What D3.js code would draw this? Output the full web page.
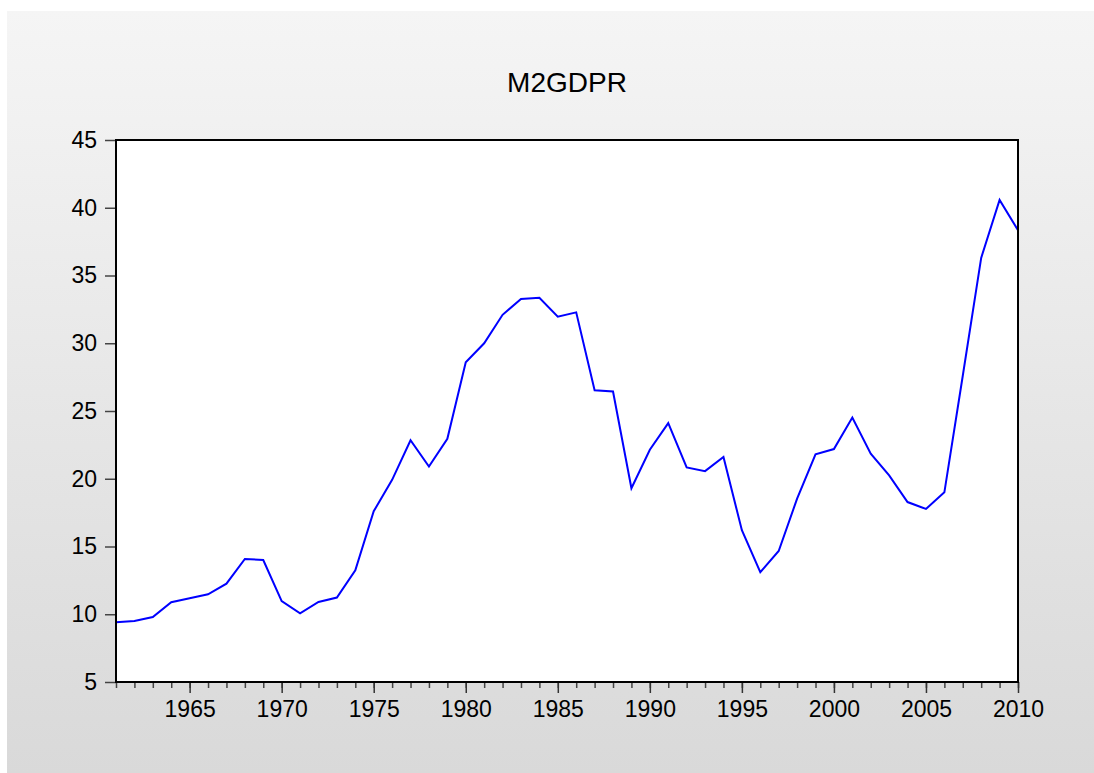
<!DOCTYPE html>
<html>
<head>
<meta charset="utf-8">
<script src="https://cdn.jsdelivr.net/npm/d3@7"></script>
<style>
  body { margin: 0; background: #fff; }
  text { font-family: "Liberation Sans", Arial, sans-serif; fill: #000; }
</style>
</head>
<body>
<script>
// data
var years = [1961, 1962, 1963, 1964, 1965, 1966, 1967, 1968, 1969, 1970,
             1971, 1972, 1973, 1974, 1975, 1976, 1977, 1978, 1979, 1980,
             1981, 1982, 1983, 1984, 1985, 1986, 1987, 1988, 1989, 1990,
             1991, 1992, 1993, 1994, 1995, 1996, 1997, 1998, 1999, 2000,
             2001, 2002, 2003, 2004, 2005, 2006, 2007, 2008, 2009, 2010];
var m2gdpr = [9.41, 9.51, 9.80, 10.89, 11.18, 11.47, 12.26, 14.08, 14.0, 10.97,
              10.07, 10.91, 11.23, 13.24, 17.6, 19.92, 22.84, 20.9, 22.95, 28.6,
              30.0, 32.1, 33.27, 33.36, 31.96, 32.28, 26.53, 26.44, 19.3, 22.14,
              24.1, 20.84, 20.56, 21.6, 16.2, 13.1, 14.67, 18.53, 21.8, 22.19,
              24.52, 21.85, 20.25, 18.28, 17.77, 19.0, 27.6, 36.3, 40.58, 38.35];
var yTicks = [5, 10, 15, 20, 25, 30, 35, 40, 45];
var xLabels = [1965, 1970, 1975, 1980, 1985, 1990, 1995, 2000, 2005, 2010];
var title = "M2GDPR";

// set up canvas
var W = 1094, H = 773;
var margin = {top: 140, right: 76, bottom: 91, left: 116},
    width = W - margin.left - margin.right,
    height = H - margin.top - margin.bottom;

var svg = d3.select("body").append("svg")
    .attr("width", W)
    .attr("height", H);

// gray backdrop
var grad = svg.append("defs").append("linearGradient")
    .attr("id", "bg")
    .attr("x1", 0).attr("y1", 0).attr("x2", 0).attr("y2", 1);
grad.append("stop").attr("offset", "0%").attr("stop-color", "#f5f5f5");
grad.append("stop").attr("offset", "100%").attr("stop-color", "#d9d9d9");

svg.append("rect")
    .attr("x", 7).attr("y", 11)
    .attr("width", W - 7).attr("height", H - 11)
    .attr("fill", "url(#bg)");

var g = svg.append("g")
    .attr("transform", "translate(" + margin.left + "," + margin.top + ")");

// scales
var x = d3.scaleLinear().domain([1961, 2010]).range([0, width]);
var y = d3.scaleLinear().domain([5, 45]).range([height, 0]);

// plot area
g.append("rect")
    .attr("width", width)
    .attr("height", height)
    .attr("fill", "#fff");

// y axis
var yAxis = g.append("g")
    .call(d3.axisLeft(y).tickValues(yTicks).tickSize(11).tickPadding(8));
yAxis.select(".domain").remove();
yAxis.selectAll("line").attr("stroke", "#444").attr("stroke-width", 1.5);
yAxis.selectAll("text")
    .style("font-size", "23px")
    .attr("fill", "#000");

// x axis: minor ticks every year, majors every 5
var xMinor = g.append("g")
    .attr("transform", "translate(0," + height + ")")
    .call(d3.axisBottom(x).tickValues(years).tickSize(6).tickFormat(""));
xMinor.select(".domain").remove();
xMinor.selectAll("line").attr("stroke", "#444").attr("stroke-width", 1.5);

var xAxis = g.append("g")
    .attr("transform", "translate(0," + height + ")")
    .call(d3.axisBottom(x).tickValues(xLabels).tickSize(11).tickPadding(8)
        .tickFormat(d3.format("d")));
xAxis.select(".domain").remove();
xAxis.selectAll("line").attr("stroke", "#333").attr("stroke-width", 1.5);
xAxis.selectAll("text")
    .style("font-size", "23px")
    .attr("fill", "#000");

// the series line
var line = d3.line()
    .x(function(d, i) { return x(years[i]); })
    .y(function(d) { return y(d); });

g.append("path")
    .datum(m2gdpr)
    .attr("fill", "none")
    .attr("stroke", "#0000ff")
    .attr("stroke-width", 2)
    .attr("stroke-linejoin", "miter")
    .attr("d", line);

// frame
g.append("rect")
    .attr("width", width)
    .attr("height", height)
    .attr("fill", "none")
    .attr("stroke", "#000")
    .attr("stroke-width", 2);

// title
svg.append("text")
    .attr("x", margin.left + width / 2)
    .attr("y", 92)
    .attr("text-anchor", "middle")
    .style("font-size", "28px")
    .text(title);
</script>
</body>
</html>
